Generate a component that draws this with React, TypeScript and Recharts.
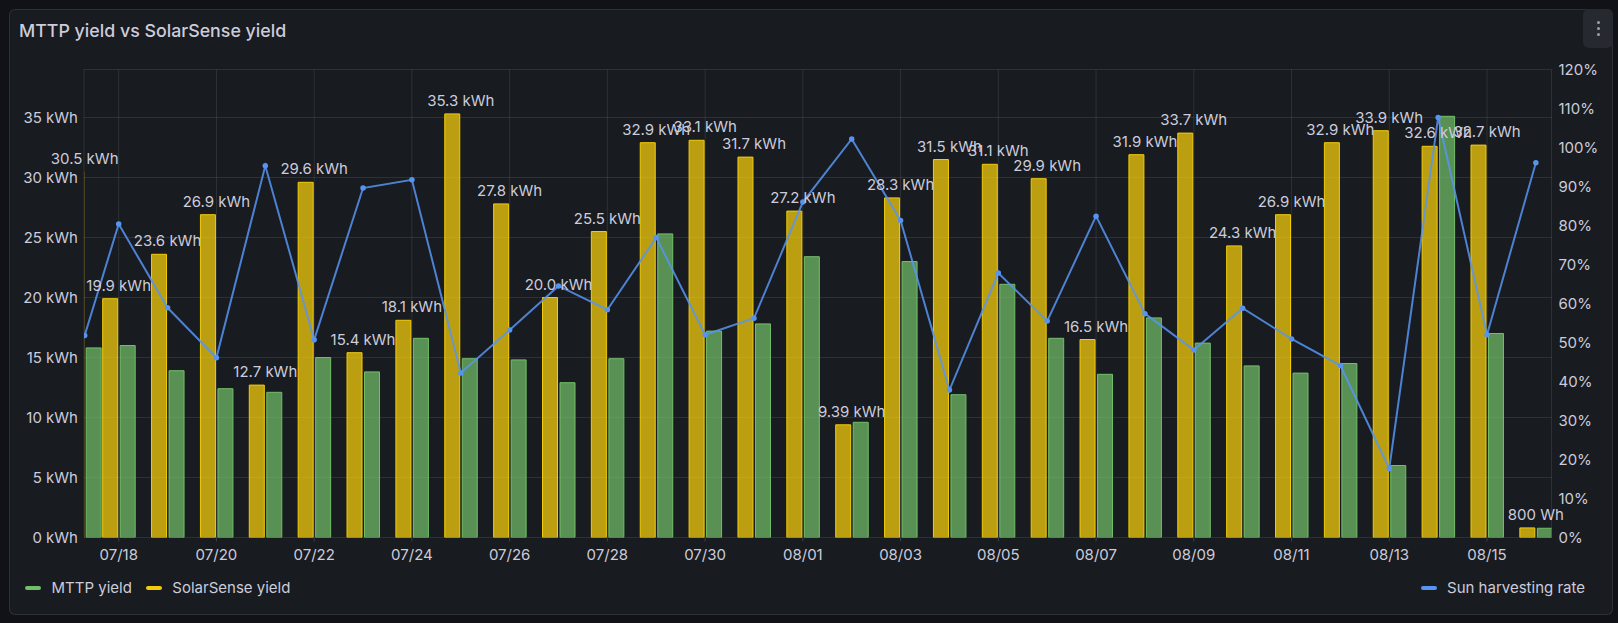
import React from 'react';
import { ComposedChart, Bar, Line, Scatter, XAxis, YAxis, CartesianGrid } from 'recharts';

if (typeof document !== 'undefined') {
  document.body.style.margin = '0';
  document.body.style.background = '#111217';
}

// x position of each sample, in days after 07/18 00:00 (first sample is the range start)
const dayOffsets = [
  -0.696, 0, 1, 2, 3, 4, 5, 6, 7, 8, 9, 10, 11, 12, 13,
  14, 15, 16, 17, 18, 19, 20, 21, 22, 23, 24, 25, 26, 27, 28, 29,
];
const dateLabels = [
  '07/17', '07/18', '07/19', '07/20', '07/21', '07/22', '07/23', '07/24', '07/25', '07/26', '07/27',
  '07/28', '07/29', '07/30', '07/31', '08/01', '08/02', '08/03', '08/04', '08/05', '08/06', '08/07',
  '08/08', '08/09', '08/10', '08/11', '08/12', '08/13', '08/14', '08/15', '08/16',
];
// kWh
const solarSenseYield = [
  30.5, 19.9, 23.6, 26.9, 12.7, 29.6, 15.4, 18.1, 35.3, 27.8, 20.0,
  25.5, 32.9, 33.1, 31.7, 27.2, 9.39, 28.3, 31.5, 31.1, 29.9, 16.5,
  31.9, 33.7, 24.3, 26.9, 32.9, 33.9, 32.6, 32.7, 0.8,
];
// kWh
const mttpYield = [
  15.8, 16.0, 13.9, 12.4, 12.1, 15.0, 13.8, 16.6, 14.9, 14.8, 12.9,
  14.9, 25.3, 17.2, 17.8, 23.4, 9.6, 23.0, 11.9, 21.1, 16.6, 13.6,
  18.3, 16.2, 14.3, 13.7, 14.5, 6.0, 35.1, 17.0, 0.77,
];
// %
const harvestingRate = [
  51.8, 80.4, 58.9, 46.1, 95.3, 50.7, 89.6, 91.7, 42.2, 53.2, 64.5,
  58.4, 76.9, 52.0, 56.2, 86.0, 102.2, 81.3, 37.8, 67.8, 55.5, 82.4,
  57.4, 48.1, 58.8, 50.9, 44.1, 17.7, 107.7, 52.0, 96.1,
];

const xTickDays = [0, 2, 4, 6, 8, 10, 12, 14, 16, 18, 20, 22, 24, 26, 28];
const xTickLabels = [
  '07/18', '07/20', '07/22', '07/24', '07/26', '07/28', '07/30', '08/01',
  '08/03', '08/05', '08/07', '08/09', '08/11', '08/13', '08/15',
];
const leftTicks = [0, 5, 10, 15, 20, 25, 30, 35];
const rightTicks = [0, 10, 20, 30, 40, 50, 60, 70, 80, 90, 100, 110, 120];

const xDomain: [number, number] = [-0.71, 29.32];

const data = dayOffsets.map((x, i) => ({
  x,
  date: dateLabels[i],
  solar: solarSenseYield[i],
  mttp: mttpYield[i],
  rate: harvestingRate[i],
}));

const TEXT = '#ccccdc';
const FONT = 'Inter, "Noto Sans", sans-serif';
const GRID = 'rgba(204,204,220,0.12)';
const YELLOW = '#F2CC0C';
const GREEN = '#73BF69';
const BLUE = '#5794F2';

const formatEnergy = (v: number) => {
  if (v < 1) return `${Math.round(v * 1000)} Wh`;
  if (v < 10) return `${v.toFixed(2)} kWh`;
  return `${v.toFixed(1)} kWh`;
};

const ValueLabel = (props: any) => {
  const { cx, cy, payload } = props;
  if (cx == null || cy == null || !payload) return <g />;
  return (
    <text x={cx} y={cy - 8} textAnchor="middle" fill={TEXT} fontSize={15} fontFamily={FONT}>
      {formatEnergy(payload.solar)}
    </text>
  );
};

const tickStyle = { fill: TEXT, fontSize: 15, fontFamily: FONT };

const LegendItem = ({ color, label }: { color: string; label: string }) => (
  <div style={{ display: 'flex', alignItems: 'center' }}>
    <div style={{ width: 16, height: 4, borderRadius: 2, background: color, marginRight: 10.5 }} />
    <span style={{ color: TEXT, fontSize: 15, fontFamily: FONT, lineHeight: '18px' }}>{label}</span>
  </div>
);

export default function App() {
  return (
    <div style={{ position: 'relative', width: 1618, height: 623, background: '#111217', overflow: 'hidden' }}>
      <div
        style={{
          position: 'absolute',
          left: 8.5,
          top: 9,
          width: 1604,
          height: 605.5,
          background: '#181b1f',
          border: '1px solid rgba(204,204,220,0.12)',
          borderRadius: 6,
          boxSizing: 'border-box',
        }}
      />
      <div
        style={{
          position: 'absolute',
          left: 19,
          top: 19,
          color: TEXT,
          fontFamily: FONT,
          fontSize: 17.8,
          fontWeight: 500,
          lineHeight: '24px',
          whiteSpace: 'nowrap',
        }}
      >
        MTTP yield vs SolarSense yield
      </div>
      <div
        style={{
          position: 'absolute',
          left: 1583,
          top: 9,
          width: 30,
          height: 39,
          background: '#26292f',
          borderRadius: 6,
          display: 'flex',
          flexDirection: 'column',
          alignItems: 'center',
          justifyContent: 'center',
          gap: 3,
        }}
      >
        {[0, 1, 2].map((k) => (
          <div key={k} style={{ width: 3, height: 3, borderRadius: 2, background: '#9fa0aa' }} />
        ))}
      </div>

      <div style={{ position: 'absolute', left: 0, top: 0 }}>
        <ComposedChart
          width={1618}
          height={623}
          data={data}
          margin={{ top: 69.5, right: 0, bottom: 55.5, left: 0 }}
          barGap={2.5}
        >
          <CartesianGrid xAxisId="main" yAxisId="left" stroke={GRID} strokeWidth={1} />
          <XAxis
            xAxisId="main"
            dataKey="x"
            type="number"
            domain={xDomain}
            allowDataOverflow
            ticks={xTickDays}
            interval={0}
            tickFormatter={(v: number) => xTickLabels[xTickDays.indexOf(v)] ?? ''}
            tick={tickStyle}
            axisLine={false}
            tickLine={{ stroke: 'rgba(204,204,220,0.2)' }}
            tickSize={4}
            tickMargin={8}
            height={30}
          />
          <XAxis
            xAxisId="lbl"
            dataKey="x"
            type="number"
            domain={xDomain}
            orientation="top"
            height={0}
            hide
          />
          <YAxis
            yAxisId="left"
            domain={[0, 39]}
            ticks={leftTicks}
            interval={0}
            tickFormatter={(v: number) => `${v} kWh`}
            tick={tickStyle}
            axisLine={false}
            tickLine={false}
            tickSize={0}
            tickMargin={6}
            width={84}
            allowDataOverflow
          />
          <YAxis
            yAxisId="right"
            orientation="right"
            domain={[0, 120]}
            ticks={rightTicks}
            interval={0}
            tickFormatter={(v: number) => `${v}%`}
            tick={tickStyle}
            axisLine={false}
            tickLine={false}
            tickSize={0}
            tickMargin={7}
            width={66.5}
            allowDataOverflow
          />
          <Bar
            xAxisId="main"
            yAxisId="left"
            dataKey="solar"
            name="SolarSense yield"
            barSize={15}
            fill={YELLOW}
            fillOpacity={0.75}
            stroke={YELLOW}
            strokeWidth={1}
            isAnimationActive={false}
          />
          <Bar
            xAxisId="main"
            yAxisId="left"
            dataKey="mttp"
            name="MTTP yield"
            barSize={15}
            fill={GREEN}
            fillOpacity={0.72}
            stroke={GREEN}
            strokeWidth={1}
            isAnimationActive={false}
          />
          <Line
            xAxisId="main"
            yAxisId="right"
            type="linear"
            dataKey="rate"
            name="Sun harvesting rate"
            stroke={BLUE}
            strokeOpacity={0.85}
            strokeWidth={2}
            dot={{ r: 2.75, fill: BLUE, stroke: BLUE, strokeWidth: 0, fillOpacity: 1 }}
            activeDot={false}
            isAnimationActive={false}
          />
          <Scatter
            xAxisId="lbl"
            yAxisId="left"
            dataKey="solar"
            shape={ValueLabel}
            isAnimationActive={false}
          />
        </ComposedChart>
      </div>

      <div style={{ position: 'absolute', left: 25, top: 579, display: 'flex', gap: 14 }}>
        <LegendItem color={GREEN} label="MTTP yield" />
        <LegendItem color={YELLOW} label="SolarSense yield" />
      </div>
      <div style={{ position: 'absolute', right: 33, top: 579, display: 'flex' }}>
        <LegendItem color={BLUE} label="Sun harvesting rate" />
      </div>
    </div>
  );
}
